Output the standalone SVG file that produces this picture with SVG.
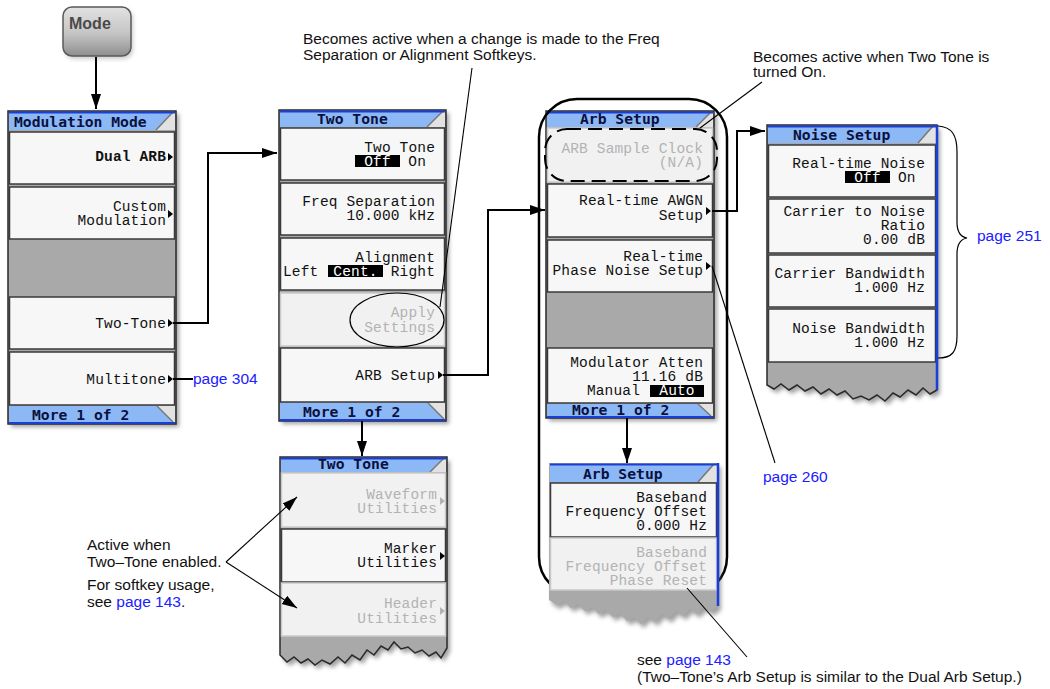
<svg xmlns="http://www.w3.org/2000/svg" xmlns:xlink="http://www.w3.org/1999/xlink" width="1050" height="689" viewBox="0 0 1050 689">
<style>
.body{fill:#a9a9a9;stroke:#2a2a2a;stroke-width:1.5}
.shadow{fill:#555;opacity:.55;filter:url(#blur)}
.key{fill:#f7f7f7;stroke:#3a3a3a;stroke-width:1.5}
.keyg{fill:#f1f1f1;stroke:#c9c9c9;stroke-width:1.5}
.hbg{fill:#e2e2e2}
.hdr{fill:#8cb8f5}
.diag{stroke:#777;stroke-width:1.5;fill:none}
.bl{stroke:#1a3fd6;stroke-width:2;fill:none}
.blr{stroke:#1a3fd6;stroke-width:2.5;fill:none}
.hl{fill:#000}
.sk{font-family:"Liberation Mono","DejaVu Sans Mono",monospace;font-size:14.5px;letter-spacing:0.15px;fill:#111;text-anchor:end}
.st{text-anchor:start}
.mid{text-anchor:middle}
.g{fill:#b3b3b3}
.w{fill:#fff}
.ht{font-family:"DejaVu Sans Mono","Liberation Mono",monospace;font-size:14.7px;font-weight:bold;fill:#0a1040}
.b{font-weight:bold}
.ann{font-family:"Liberation Sans",Arial,sans-serif;font-size:15.5px;fill:#111}
.link{fill:#2020ff}
.conn{stroke:#000;stroke-width:2;fill:none}
.thin{stroke:#000;stroke-width:1.1;fill:none}
.tri{fill:#000}
.trig{fill:#b3b3b3}
</style>
<defs>
<filter id="blur" x="-20%" y="-20%" width="140%" height="140%"><feGaussianBlur stdDeviation="2.2"/></filter>
<linearGradient id="btn" x1="0" y1="0" x2="0" y2="1">
<stop offset="0" stop-color="#e2e2e2"/><stop offset="0.55" stop-color="#c4c4c4"/><stop offset="1" stop-color="#8e8e8e"/>
</linearGradient>
<marker id="arr" markerUnits="userSpaceOnUse" markerWidth="16" markerHeight="11" refX="15" refY="5" orient="auto">
<path d="M0,0 L15,5 L0,10 Z" fill="#000"/>
</marker>
<path id="tri" d="M0,-4 L5,0 L0,4 Z"/>
</defs>
<rect width="1050" height="689" fill="#fff"/>

<g id="mode-button">
<rect x="65" y="9" width="68" height="50" rx="9" fill="#999" opacity=".5" filter="url(#blur)"/>
<rect x="63" y="7" width="68" height="49" rx="9" fill="url(#btn)" stroke="#5a5a5a" stroke-width="1.5"/>
<text x="69" y="29" font-family="Liberation Sans,Arial,sans-serif" font-size="16" font-weight="bold" fill="#4a4a4a">Mode</text>
</g>

<g id="modulation-mode">
<rect class="shadow" x="11" y="114" width="168" height="313"/>
<rect class="body" x="8" y="111" width="168" height="313"/>
<rect class="hbg" x="9" y="112" width="166" height="18"/>
<polygon class="hdr" points="9,112 173,112 156,130 9,130"/>
<line class="diag" x1="156" y1="130" x2="173" y2="112"/>
<line class="bl" x1="9" y1="112.5" x2="175" y2="112.5"/>
<text class="ht" x="14" y="127">Modulation Mode</text>
<rect class="key" x="9.5" y="132" width="165" height="52"/>
<text class="sk b" x="166" y="161">Dual ARB</text>
<use href="#tri" class="tri" x="168" y="157"/>
<rect class="key" x="9.5" y="187" width="165" height="52"/>
<text class="sk" x="166" y="211">Custom</text>
<text class="sk" x="166" y="225">Modulation</text>
<use href="#tri" class="tri" x="168" y="214"/>
<rect class="key" x="9.5" y="297" width="165" height="52"/>
<text class="sk" x="166" y="328">Two-Tone</text>
<use href="#tri" class="tri" x="168" y="323"/>
<rect class="key" x="9.5" y="352" width="165" height="53"/>
<text class="sk" x="166" y="384">Multitone</text>
<use href="#tri" class="tri" x="168" y="379"/>
<rect class="hbg" x="9" y="406" width="166" height="17"/>
<polygon class="hdr" points="9,406 157,406 173,422 9,422"/>
<line class="diag" x1="157" y1="406" x2="173" y2="422"/>
<line class="bl" x1="9" y1="423" x2="175" y2="423"/>
<text class="ht" x="32" y="420">More 1 of 2</text>
</g>

<g id="two-tone">
<rect class="shadow" x="282" y="113" width="167" height="311"/>
<rect class="body" x="279" y="110" width="167" height="311"/>
<rect class="hbg" x="280" y="111" width="165" height="16"/>
<polygon class="hdr" points="280,111 443,111 427,127 280,127"/>
<line class="diag" x1="427" y1="127" x2="443" y2="111"/>
<line class="bl" x1="280" y1="111.5" x2="445" y2="111.5"/>
<text class="ht" x="317" y="124">Two Tone</text>
<rect class="key" x="280.5" y="128" width="164" height="52"/>
<text class="sk" x="435" y="152">Two Tone</text>
<rect class="hl" x="355" y="155" width="45" height="12"/>
<text class="sk mid w" x="377.5" y="166">Off</text>
<text class="sk" x="426" y="166">On</text>
<rect class="key" x="280.5" y="183" width="164" height="52"/>
<text class="sk" x="435" y="206">Freq Separation</text>
<text class="sk" x="435" y="220">10.000 kHz</text>
<rect class="key" x="280.5" y="238" width="164" height="52"/>
<text class="sk" x="435" y="262">Alignment</text>
<text class="sk st" x="283" y="276">Left</text>
<rect class="hl" x="328" y="265" width="55" height="12"/>
<text class="sk mid w" x="355.5" y="276">Cent.</text>
<text class="sk" x="435" y="276">Right</text>
<rect class="keyg" x="280.5" y="293" width="164" height="53"/>
<text class="sk g" x="435" y="317">Apply</text>
<text class="sk g" x="435" y="332">Settings</text>
<rect class="key" x="280.5" y="348" width="164" height="54"/>
<text class="sk" x="435" y="380">ARB Setup</text>
<use href="#tri" class="tri" x="438" y="375"/>
<rect class="hbg" x="280" y="403" width="165" height="17"/>
<polygon class="hdr" points="280,403 428,403 444,419 280,419"/>
<line class="diag" x1="428" y1="403" x2="444" y2="419"/>
<line class="bl" x1="280" y1="420" x2="445" y2="420"/>
<text class="ht" x="303" y="417">More 1 of 2</text>
<ellipse cx="397" cy="320" rx="47" ry="27" fill="none" stroke="#000" stroke-width="1.2"/>
</g>

<g id="arb-setup">
<rect class="shadow" x="549" y="114" width="168" height="307"/>
<rect class="body" x="546" y="111" width="168" height="307"/>
<rect class="hbg" x="547" y="112" width="166" height="15"/>
<polygon class="hdr" points="547,112 711,112 696,127 547,127"/>
<line class="diag" x1="696" y1="127" x2="711" y2="112"/>
<line class="bl" x1="547" y1="112.5" x2="713" y2="112.5"/>
<text class="ht" x="580" y="124">Arb Setup</text>
<rect class="keyg" x="547.5" y="128" width="165" height="54"/>
<text class="sk g" x="703" y="153">ARB Sample Clock</text>
<text class="sk g" x="703" y="167">(N/A)</text>
<rect class="key" x="547.5" y="184" width="165" height="53"/>
<text class="sk" x="703" y="205">Real-time AWGN</text>
<text class="sk" x="703" y="220">Setup</text>
<use href="#tri" class="tri" x="706" y="211"/>
<rect class="key" x="547.5" y="240" width="165" height="52"/>
<text class="sk" x="703" y="261">Real-time</text>
<text class="sk" x="703" y="275">Phase Noise Setup</text>
<use href="#tri" class="tri" x="706" y="266"/>
<rect class="key" x="547.5" y="348" width="165" height="55"/>
<text class="sk" x="703" y="367">Modulator Atten</text>
<text class="sk" x="703" y="381">11.16 dB</text>
<text class="sk" x="640" y="395">Manual</text>
<rect class="hl" x="650" y="385" width="54" height="12"/>
<text class="sk mid w" x="677" y="395">Auto</text>
<rect class="hbg" x="547" y="404" width="166" height="13"/>
<polygon class="hdr" points="547,404 698,404 711,416 547,416"/>
<line class="diag" x1="698" y1="404" x2="711" y2="416"/>
<line class="bl" x1="547" y1="417" x2="713" y2="417"/>
<text class="ht" x="572" y="415">More 1 of 2</text>
<rect x="545" y="129" width="172" height="52" rx="22" fill="none" stroke="#000" stroke-width="2" stroke-dasharray="14 7"/>
<rect x="539" y="99" width="188" height="496" rx="38" fill="none" stroke="#000" stroke-width="2.5"/>
</g>

<g id="noise-setup">
<path class="shadow" transform="translate(3,4)" d="M767,125 H937 V390 L930,394 L923,388 L916,395 L908,390 L900,397 L893,393 L885,401 L877,395 L869,400 L861,396 L853,399 L845,391 L837,395 L829,389 L821,394 L813,387 L805,391 L797,385 L789,390 L781,384 L774,389 L767,385 Z"/>
<path class="body" d="M767,125 H937 V390 L930,394 L923,388 L916,395 L908,390 L900,397 L893,393 L885,401 L877,395 L869,400 L861,396 L853,399 L845,391 L837,395 L829,389 L821,394 L813,387 L805,391 L797,385 L789,390 L781,384 L774,389 L767,385 Z"/>
<rect class="hbg" x="768" y="126" width="168" height="17"/>
<polygon class="hdr" points="768,126 933,126 918,143 768,143"/>
<line class="diag" x1="918" y1="143" x2="933" y2="126"/>
<line class="bl" x1="768" y1="126.5" x2="936" y2="126.5"/>
<text class="ht" x="793" y="140">Noise Setup</text>
<rect class="key" x="768.5" y="145" width="167" height="52"/>
<text class="sk" x="925" y="168">Real-time Noise</text>
<rect class="hl" x="845" y="171" width="45" height="12"/>
<text class="sk mid w" x="867.5" y="182">Off</text>
<text class="sk st" x="898" y="182">On</text>
<rect class="key" x="768.5" y="199" width="167" height="54"/>
<text class="sk" x="925" y="216">Carrier to Noise</text>
<text class="sk" x="925" y="230">Ratio</text>
<text class="sk" x="925" y="244">0.00 dB</text>
<rect class="key" x="768.5" y="255" width="167" height="52"/>
<text class="sk" x="925" y="278">Carrier Bandwidth</text>
<text class="sk" x="925" y="292">1.000 Hz</text>
<rect class="key" x="768.5" y="309" width="167" height="53"/>
<text class="sk" x="925" y="333">Noise Bandwidth</text>
<text class="sk" x="925" y="347">1.000 Hz</text>
<line class="blr" x1="937" y1="125" x2="937" y2="390"/>
<path d="M938,126 C952,127 957,135 957,152 L957,222 C957,232 961,237 967,238 C961,239 957,244 957,254 L957,336 C957,352 952,358 938,358" fill="none" stroke="#000" stroke-width="1.2"/>
<text class="ann link" x="977" y="241">page 251</text>
</g>

<g id="two-tone-more">
<path class="shadow" transform="translate(3,4)" d="M280,457 H447 V648 L441,658 L436,652 L429,656 L422,650 L415,653 L408,647 L401,649 L394,642 L388,650 L381,646 L374,655 L367,650 L360,660 L352,655 L345,663 L338,657 L330,664 L322,660 L315,665 L308,659 L301,663 L294,657 L287,662 L280,655 Z"/>
<path class="body" d="M280,457 H447 V648 L441,658 L436,652 L429,656 L422,650 L415,653 L408,647 L401,649 L394,642 L388,650 L381,646 L374,655 L367,650 L360,660 L352,655 L345,663 L338,657 L330,664 L322,660 L315,665 L308,659 L301,663 L294,657 L287,662 L280,655 Z"/>
<rect class="hbg" x="281" y="458" width="165" height="14"/>
<polygon class="hdr" points="281,458 444,458 430,472 281,472"/>
<line class="diag" x1="430" y1="472" x2="444" y2="458"/>
<line class="bl" x1="281" y1="458.5" x2="446" y2="458.5"/>
<text class="ht" x="318" y="469">Two Tone</text>
<rect class="keyg" x="281.5" y="473" width="164" height="54"/>
<text class="sk g" x="437" y="499">Waveform</text>
<text class="sk g" x="437" y="513">Utilities</text>
<use href="#tri" class="trig" x="440" y="501"/>
<rect class="key" x="281.5" y="529" width="164" height="53"/>
<text class="sk" x="437" y="553">Marker</text>
<text class="sk" x="437" y="567">Utilities</text>
<use href="#tri" class="tri" x="440" y="556"/>
<rect class="keyg" x="281.5" y="583" width="164" height="53"/>
<text class="sk g" x="437" y="608">Header</text>
<text class="sk g" x="437" y="623">Utilities</text>
<use href="#tri" class="trig" x="440" y="611"/>
</g>

<g id="arb-setup-more">
<path class="shadow" transform="translate(3,4)" d="M549,463 H718 V606 L711,612 L704,607 L697,614 L690,609 L683,616 L676,611 L669,619 L662,614 L655,622 L648,617 L641,624 L634,618 L627,621 L620,613 L613,617 L606,610 L599,614 L592,607 L585,611 L578,604 L571,608 L564,601 L557,605 L549,600 Z"/>
<path class="body" d="M549,463 H718 V606 L711,612 L704,607 L697,614 L690,609 L683,616 L676,611 L669,619 L662,614 L655,622 L648,617 L641,624 L634,618 L627,621 L620,613 L613,617 L606,610 L599,614 L592,607 L585,611 L578,604 L571,608 L564,601 L557,605 L549,600 Z" style="stroke:none"/>
<rect class="hbg" x="550" y="464" width="167" height="18"/>
<polygon class="hdr" points="550,464 714,464 698,482 550,482"/>
<line class="diag" x1="698" y1="482" x2="714" y2="464"/>
<line class="bl" x1="550" y1="464.5" x2="717" y2="464.5"/>
<text class="ht" x="583" y="479">Arb Setup</text>
<rect class="key" x="550.5" y="483" width="166" height="54"/>
<text class="sk" x="707" y="502">Baseband</text>
<text class="sk" x="707" y="516">Frequency Offset</text>
<text class="sk" x="707" y="530">0.000 Hz</text>
<rect class="keyg" x="550.5" y="538" width="166" height="52"/>
<text class="sk g" x="707" y="557">Baseband</text>
<text class="sk g" x="707" y="571">Frequency Offset</text>
<text class="sk g" x="707" y="585">Phase Reset</text>
<line class="blr" x1="718" y1="463" x2="718" y2="606"/>
</g>

<g id="connectors">
<line class="conn" x1="96" y1="57" x2="96" y2="109" marker-end="url(#arr)"/>
<polyline class="conn" points="173,323 208,323 208,153 277,153" marker-end="url(#arr)"/>
<line class="conn" x1="173" y1="379" x2="193" y2="379"/>
<polyline class="conn" points="443,375 488,375 488,210 545,210" marker-end="url(#arr)"/>
<line class="conn" x1="362" y1="421" x2="362" y2="456" marker-end="url(#arr)"/>
<polyline class="conn" points="712,211 737,211 737,131 765,131" marker-end="url(#arr)"/>
<line class="conn" x1="627" y1="418" x2="627" y2="463" marker-end="url(#arr)"/>
<line class="thin" x1="472" y1="68" x2="440" y2="307"/>
<line class="thin" x1="762" y1="82" x2="700" y2="128"/>
<line class="thin" x1="775" y1="463" x2="712" y2="266"/>
<line class="thin" x1="226" y1="562" x2="297" y2="497" marker-end="url(#arr)"/>
<line class="thin" x1="226" y1="562" x2="297" y2="608" marker-end="url(#arr)"/>
<line class="thin" x1="687" y1="588" x2="747" y2="657"/>
</g>

<g id="annotations">
<text class="ann link" x="193" y="384">page 304</text>
<text class="ann" x="303" y="44">Becomes active when a change is made to the Freq</text>
<text class="ann" x="303" y="60">Separation or Alignment Softkeys.</text>
<text class="ann" x="753" y="62">Becomes active when Two Tone is</text>
<text class="ann" x="753" y="77">turned On.</text>
<text class="ann link" x="763" y="482">page 260</text>
<text class="ann" x="87" y="550">Active when</text>
<text class="ann" x="87" y="567">Two–Tone enabled.</text>
<text class="ann" x="87" y="590">For softkey usage,</text>
<text class="ann" x="87" y="607">see <tspan class="link">page 143</tspan>.</text>
<text class="ann" x="637" y="665">see <tspan class="link">page 143</tspan></text>
<text class="ann" x="637" y="682">(Two–Tone’s Arb Setup is similar to the Dual Arb Setup.)</text>
</g>
</svg>
